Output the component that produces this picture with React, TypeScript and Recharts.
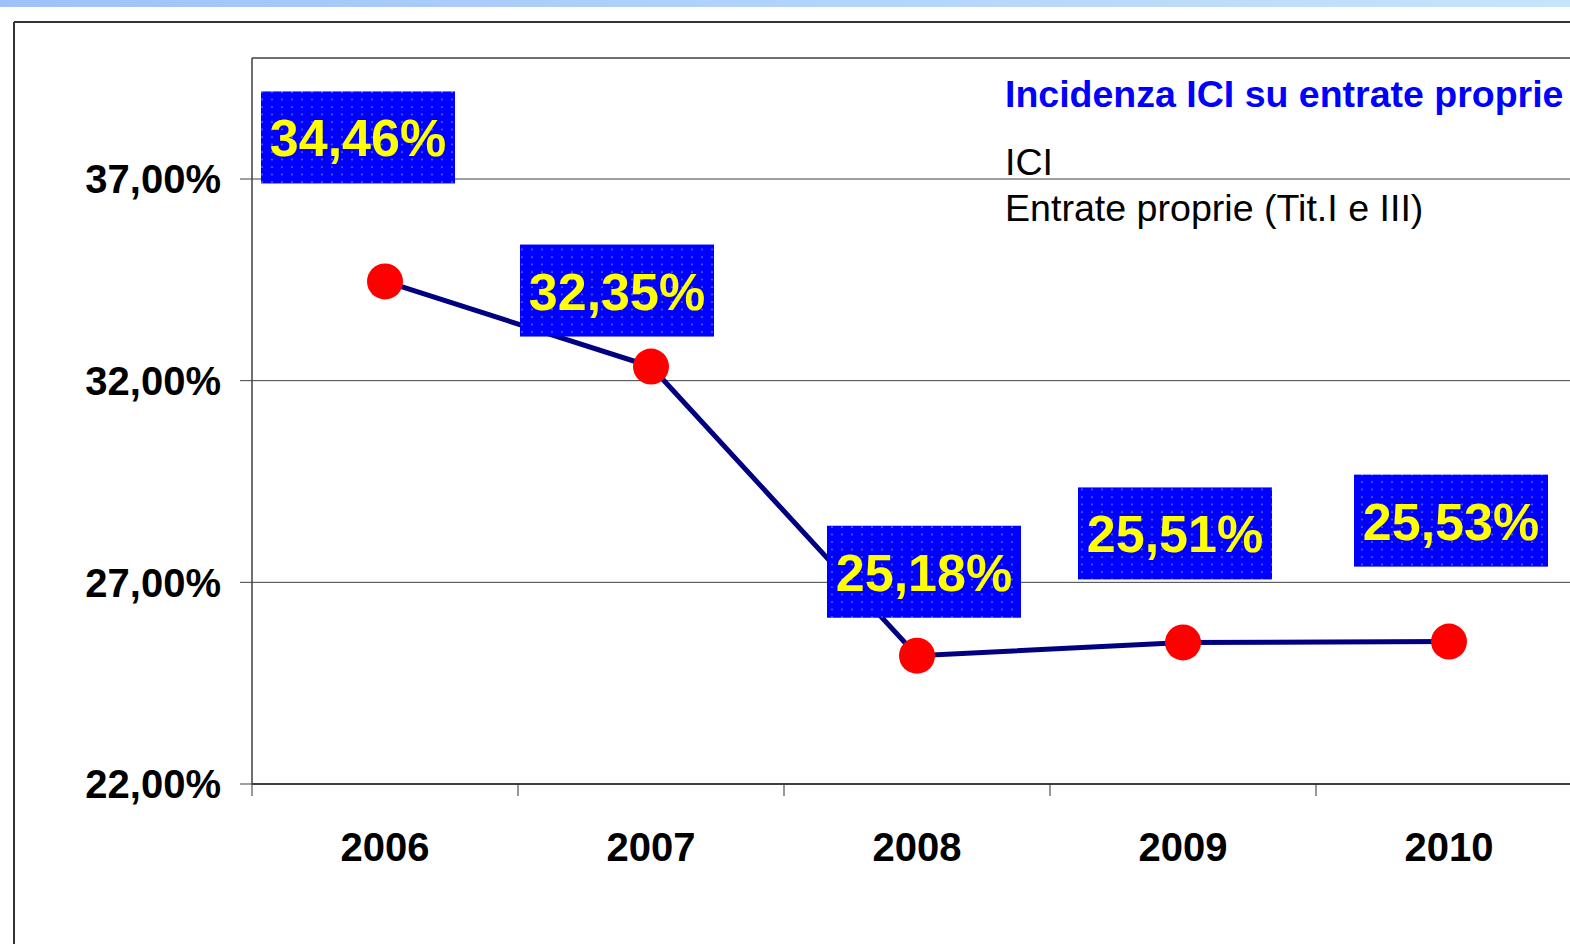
import { LineChart, Line, XAxis, YAxis, CartesianGrid, ReferenceLine, LabelList } from 'recharts'

const years = ['2006', '2007', '2008', '2009', '2010']
const incidenza = [34.46, 32.35, 25.18, 25.51, 25.53]
const yTicks = [22, 27, 32, 37]
const legendTitle = 'Incidenza ICI su entrate proprie'
const legendLines = ['ICI', 'Entrate proprie (Tit.I e III)']

// where each value box sits relative to its point
const labelOffsets = [
  [-27, -144],
  [-34, -76],
  [7, -84],
  [-8, -109],
  [2, -121],
]

const FONT = '"Liberation Sans", Arial, sans-serif'
const CHART_W = 1600
const CHART_H = 944
const PLOT_TOP = 58
const PLOT_LEFT = 252
const PLOT_RIGHT = 1582
const BAND = (PLOT_RIGHT - PLOT_LEFT) / years.length

const data = years.map((year, i) => ({ year, value: incidenza[i] }))

const fmtPct = (v: number) => v.toFixed(2).replace('.', ',') + '%'

function XTick(props: any) {
  const { x, y, payload } = props
  return (
    <g>
      <line x1={x - BAND / 2} x2={x - BAND / 2} y1={y} y2={y + 12} stroke="#333" strokeWidth={1} />
      <text x={x} y={y + 77} textAnchor="middle" fontFamily={FONT} fontWeight="bold" fontSize={40} fill="#000">
        {payload.value}
      </text>
    </g>
  )
}

function ValueBox(props: any) {
  const { x, y, index, value } = props
  const [dx, dy] = labelOffsets[index]
  const cx = x + dx
  const cy = y + dy
  return (
    <g>
      <rect x={cx - 97} y={cy - 46} width={194} height={92} fill="url(#dots)" />
      <text x={cx} y={cy + 19} textAnchor="middle" fontFamily={FONT} fontWeight="bold" fontSize={52} fill="#ffff00">
        {fmtPct(value)}
      </text>
    </g>
  )
}

export default function App() {
  return (
    <div style={{ position: 'absolute', left: 0, top: 0, width: 1570, height: 944, overflow: 'hidden', background: '#fff' }}>
      <div style={{ position: 'absolute', left: 0, top: 0, width: 1570, height: 7, background: 'linear-gradient(to right, #9dc2fa, #c6e4fc)' }} />
      <div style={{ position: 'absolute', left: 0, top: 0 }}>
        <LineChart
          width={CHART_W}
          height={CHART_H}
          data={data}
          margin={{ top: PLOT_TOP, right: CHART_W - PLOT_RIGHT, left: 12, bottom: 60 }}
        >
          <defs>
            <pattern id="dots" width="10" height="7.5" patternUnits="userSpaceOnUse">
              <rect width="10" height="7.5" fill="#0000ff" />
              <circle cx="2" cy="2" r="0.9" fill="#5a78ff" />
            </pattern>
          </defs>
          <CartesianGrid vertical={false} stroke="#404040" strokeWidth={1} />
          <ReferenceLine y={40} stroke="#404040" strokeWidth={1} />
          <XAxis
            dataKey="year"
            scale="band"
            height={100}
            tickLine={false}
            tickSize={0}
            tickMargin={0}
            axisLine={{ stroke: '#404040', strokeWidth: 2 }}
            tick={<XTick />}
            interval={0}
          />
          <YAxis
            width={240}
            domain={[22, 40]}
            ticks={yTicks}
            tickFormatter={fmtPct}
            tickSize={12}
            tickMargin={19}
            axisLine={{ stroke: '#404040', strokeWidth: 1.5 }}
            tickLine={{ stroke: '#404040' }}
            tick={{ fontFamily: FONT, fontWeight: 'bold', fontSize: 40, fill: '#000' }}
          />
          <Line
            dataKey="value"
            stroke="#000080"
            strokeWidth={5}
            dot={{ r: 18, fill: '#ff0000', stroke: 'none' }}
            activeDot={false}
            isAnimationActive={false}
          >
            <LabelList dataKey="value" content={<ValueBox />} />
          </Line>
        </LineChart>
      </div>
      <svg width={1570} height={944} style={{ position: 'absolute', left: 0, top: 0, pointerEvents: 'none' }}>
        <line x1={14} x2={1570} y1={22} y2={22} stroke="#333" strokeWidth={2} />
        <line x1={14} x2={14} y1={22} y2={944} stroke="#333" strokeWidth={2} />
        <text x={1005} y={107} fontFamily={FONT} fontWeight="bold" fontSize={37.5} fill="#0000ff">
          {legendTitle}
        </text>
        <text x={1005} y={175} fontFamily={FONT} fontSize={37.6} fill="#000">
          {legendLines[0]}
        </text>
        <text x={1005} y={221} fontFamily={FONT} fontSize={37.6} fill="#000">
          {legendLines[1]}
        </text>
      </svg>
    </div>
  )
}
